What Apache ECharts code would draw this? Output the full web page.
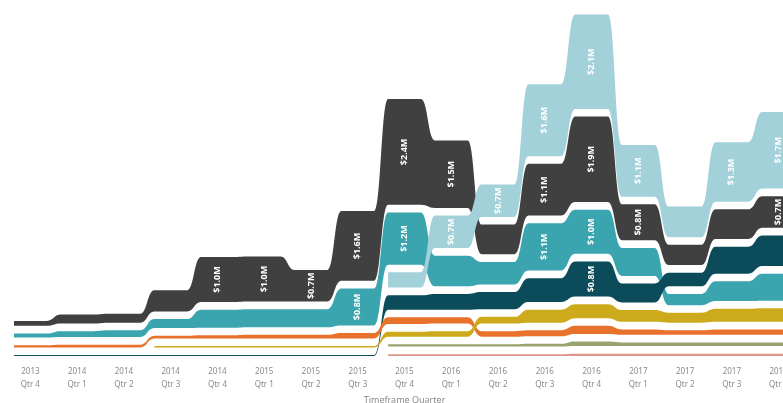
<!DOCTYPE html>
<html><head><meta charset="utf-8">
<script src="https://cdn.jsdelivr.net/npm/echarts@6/dist/echarts.min.js"></script>
<style>html,body{margin:0;padding:0;background:#fff}#c{width:783px;height:403px}</style>
</head><body><div id="c"></div>
<script>
// ---- data ($M) ----
const years = ['2013','2014','2014','2014','2014','2015','2015','2015','2015','2016','2016','2016','2016','2017','2017','2017','2017'];
const quarters = ['Qtr 4','Qtr 1','Qtr 2','Qtr 3','Qtr 4','Qtr 1','Qtr 2','Qtr 3','Qtr 4','Qtr 1','Qtr 2','Qtr 3','Qtr 4','Qtr 1','Qtr 2','Qtr 3','Qtr 4'];
const categories = years.map((y, i) => y + '\n' + quarters[i]);

const seriesNames = ['Series A','Series B','Series C','Series D','Series E','Series F','Series G','Series H'];
const darkValues   = [0.11,0.2,0.2,0.47,1.0,1.0,0.7,1.55,2.35,1.5,0.66,1.15,1.9,0.8,0.45,0.66,0.7];
const tealValues   = [0.09,0.13,0.15,0.2,0.4,0.4,0.4,0.82,1.16,0.68,0.5,1.05,0.98,0.62,0.25,0.44,0.6];
const lightValues  = [null,null,null,null,null,null,null,null,0.34,0.72,0.72,1.6,2.1,1.15,0.68,1.32,1.7];
const navyValues   = [0.02,0.02,0.02,0.02,0.02,0.02,0.02,0.02,0.32,0.35,0.38,0.53,0.78,0.42,0.3,0.6,0.68];
const orangeValues = [0.05,0.06,0.06,0.06,0.07,0.08,0.08,0.12,0.15,0.14,0.12,0.13,0.18,0.12,0.1,0.12,0.12];
const yellowValues = [null,null,null,0.03,0.03,0.03,0.03,0.03,0.11,0.12,0.15,0.29,0.31,0.26,0.22,0.29,0.3];
const greenValues  = [null,null,null,null,null,null,null,null,0.05,0.05,0.05,0.06,0.1,0.08,0.08,0.08,0.08];
const pinkValues   = [null,null,null,null,null,null,null,null,0.04,0.04,0.04,0.04,0.05,0.05,0.05,0.05,0.05];

const allValues = [darkValues, tealValues, lightValues, navyValues, orangeValues, yellowValues, greenValues, pinkValues];
const colors = ['#404041','#3aa5ae','#a2d1d9','#0b4b5a','#e8722c','#cdaa1c','#98a46e','#e0958a'];

const GAP = 0.17;      // space between ribbons (value units)
const FLAT = 0.7;      // flat share of each category band
const LABEL_MIN = 0.7;
const N = categories.length;

// rank-based stacking per category (largest on top)
const stacks = allValues.map(() => new Array(N).fill(null));
for (let j = 0; j < N; j++) {
  const idx = allValues.map((v, i) => i).filter(i => allValues[i][j] != null);
  idx.sort((a, b) => allValues[a][j] - allValues[b][j]);
  let acc = 0;
  idx.forEach(i => {
    const v = allValues[i][j];
    stacks[i][j] = { b: acc, t: acc + v };
    acc += v + GAP;
  });
}

function makeRender(s) {
  return function (params, api) {
    const j = api.value(0);
    const st = stacks[s];
    const band = api.size([1, 0])[0];
    const half = band * FLAT / 2;
    const children = [];
    const first = st.findIndex(x => x);
    if (j === first) {
      let path = '';
      let k = 0;
      while (k < N) {
        if (!st[k]) { k++; continue; }
        let e = k;
        while (e + 1 < N && st[e + 1]) e++;
        const c0 = api.coord([k, st[k].t]);
        let d = 'M' + (c0[0] - half) + ' ' + c0[1] + ' L' + (c0[0] + half) + ' ' + c0[1];
        for (let m = k + 1; m <= e; m++) {
          const a = api.coord([m - 1, st[m - 1].t]), b = api.coord([m, st[m].t]);
          const x1 = a[0] + half, x2 = b[0] - half, xm = (x1 + x2) / 2;
          d += ' C' + xm + ' ' + a[1] + ' ' + xm + ' ' + b[1] + ' ' + x2 + ' ' + b[1] + ' L' + (b[0] + half) + ' ' + b[1];
        }
        const ce = api.coord([e, st[e].b]);
        d += ' L' + (ce[0] + half) + ' ' + ce[1] + ' L' + (ce[0] - half) + ' ' + ce[1];
        for (let m = e - 1; m >= k; m--) {
          const a = api.coord([m + 1, st[m + 1].b]), b = api.coord([m, st[m].b]);
          const x1 = a[0] - half, x2 = b[0] + half, xm = (x1 + x2) / 2;
          d += ' C' + xm + ' ' + a[1] + ' ' + xm + ' ' + b[1] + ' ' + x2 + ' ' + b[1] + ' L' + (b[0] - half) + ' ' + b[1];
        }
        d += ' Z ';
        path += d;
        k = e + 1;
      }
      children.push({ type: 'path', z2: 1, shape: { pathData: path }, style: { fill: colors[s] } });
    }
    const v = allValues[s][j];
    if (st[j] && v >= LABEL_MIN) {
      const c = api.coord([j, (st[j].b + st[j].t) / 2]);
      children.push({
        type: 'text', z2: 10, x: c[0], y: c[1], rotation: Math.PI / 2,
        style: { text: '$' + v.toFixed(1) + 'M', fill: '#ffffff', align: 'center', verticalAlign: 'middle',
                 font: 'bold 9px "Noto Sans", sans-serif' }
      });
    }
    return { type: 'group', children: children };
  };
}

const chart = echarts.init(document.getElementById('c'), null, { renderer: 'canvas' });
chart.setOption({
  animation: false,
  grid: { left: 7, top: 5, bottom: 47, right: -19, containLabel: false, outerBoundsMode: 'none' },
  xAxis: {
    type: 'category', data: categories, boundaryGap: true,
    axisLine: { show: false }, axisTick: { show: false },
    axisLabel: { color: '#8a8a8a', fontSize: 8, lineHeight: 13, margin: 9, interval: 0, fontFamily: 'Noto Sans' },
    name: 'Timeframe Quarter', nameLocation: 'middle', nameGap: 40,
    nameTextStyle: { color: '#8a8a8a', fontSize: 9, fontFamily: 'Noto Sans' }
  },
  yAxis: { type: 'value', min: 0, max: 7.8, show: false },
  series: allValues.map((vals, s) => ({
    type: 'custom', name: seriesNames[s], clip: false,
    renderItem: makeRender(s),
    data: vals.map((v, j) => [j, v == null ? 0 : v])
  }))
});
</script>
</body></html>
